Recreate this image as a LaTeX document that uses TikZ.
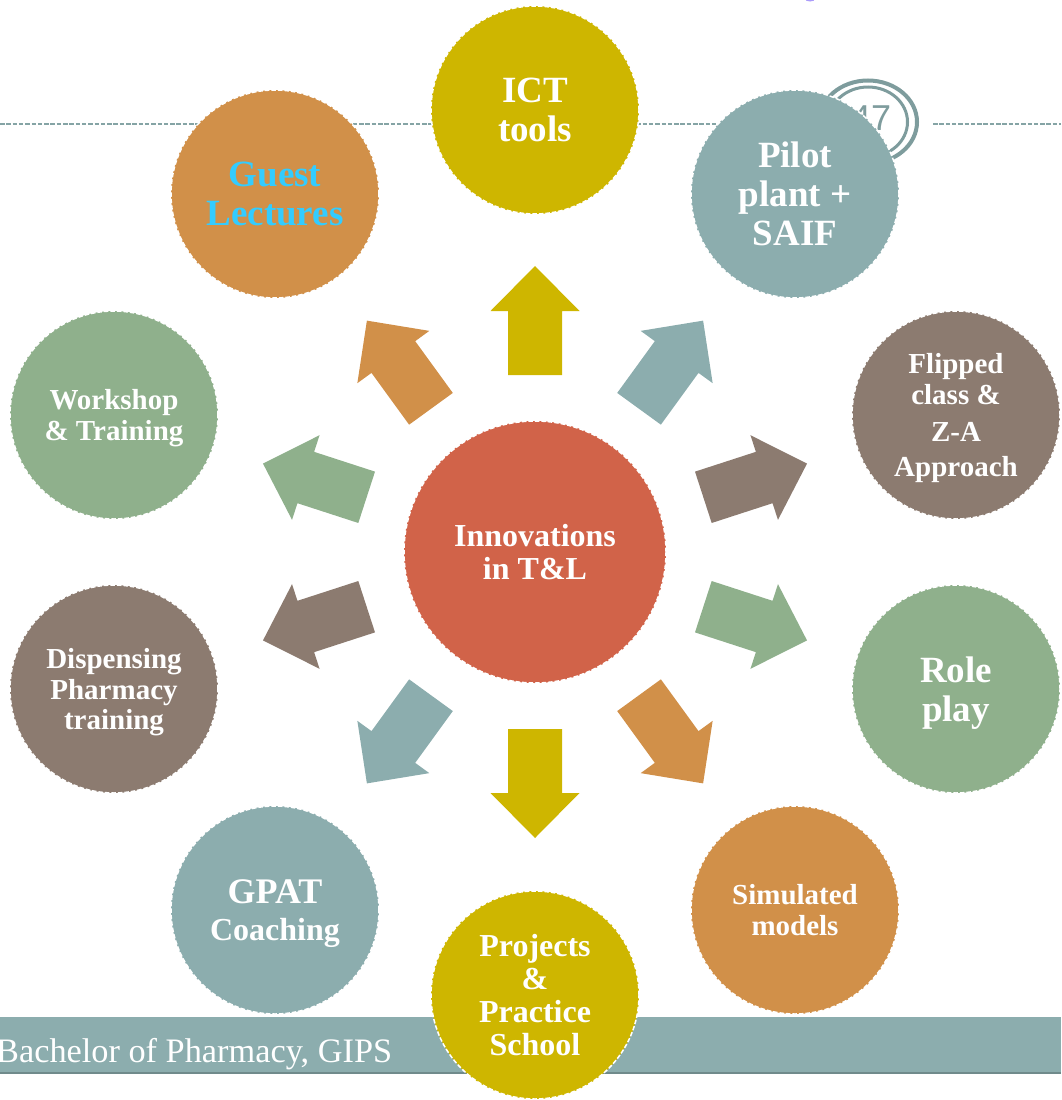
\documentclass[tikz,border=0pt]{standalone}
\usepackage{fontspec}
\setmainfont{Liberation Serif}
\newfontfamily\badgefont{Liberation Sans}
\definecolor{gold}{HTML}{CEB600}
\definecolor{teal}{HTML}{8CADAE}
\definecolor{umber}{HTML}{8C7B70}
\definecolor{sage}{HTML}{8FB08C}
\definecolor{amber}{HTML}{D19049}
\definecolor{brick}{HTML}{D16349}
\definecolor{skyblue}{HTML}{33CCFF}
\tikzset{
  x=1pt,y=-1pt,
  disc/.style={circle,minimum size=208pt,inner sep=0pt,draw=white,line width=1.5pt,
    dash pattern=on 4.5pt off 2pt,align=center,text=white},
  hubdisc/.style={disc,minimum size=262pt},
  fxl/.style={font=\fontsize{37}{39}\selectfont\bfseries},
  flg/.style={font=\fontsize{32}{33}\selectfont\bfseries},
  fsm/.style={font=\fontsize{29}{30.5}\selectfont\bfseries},
  rule/.style={draw=teal!95!black,line width=2pt,dash pattern=on 4.5pt off 1.8pt},
  ring/.style={draw=teal!90!black},
}
\begin{document}
\begin{tikzpicture}
\useasboundingbox (0,0) rectangle (1061,1100);
\clip (0,0) rectangle (1061,1100);
\fill[color={rgb,255:red,170;green,155;blue,250}] (810,-1) ellipse [x radius=5pt,y radius=2.5pt];
% header rule and page badge
\draw[rule] (0,124) -- (830,124);
\draw[rule] (933,124) -- (1061,124);
\draw[ring,line width=4pt] (868,122) ellipse [x radius=49pt,y radius=41.5pt];
\draw[ring,line width=3pt] (868,122) ellipse [x radius=39.5pt,y radius=35pt];
\node[text=teal!90!black,font=\badgefont\fontsize{36}{36}\selectfont,inner sep=0pt] (pageno) at (871,118) {47};
% footer bar
\fill[teal] (0,1017) rectangle (1061,1072);
\fill[teal!80!black] (0,1072) rectangle (1061,1074);
\node[anchor=base west,text=white,font=\fontsize{34.3}{34.3}\selectfont,inner sep=0pt] (footer) at (-4,1062) {Bachelor of Pharmacy, GIPS};
% arrows
\coordinate (hubc) at (535,552);
\foreach \ang/\col in {0/gold,-36/teal,-72/umber,-108/sage,-144/amber,-180/gold,-216/teal,-252/umber,-288/sage,-324/amber}{
  \fill[\col,rotate around={\ang:(hubc)}]
    (535,266) -- (579.5,311) -- (562,311) -- (562,375) -- (508,375) -- (508,311) -- (490.5,311) -- cycle;
}
% discs
\node[hubdisc,fill=brick,flg] (hub) at (535,552) {Innovations\\in T\&L};
\node[disc,fill=gold,fxl] (ict) at (535,110) {ICT\\tools};
\node[disc,fill=teal,fxl] (pilot) at (795,194) {Pilot\\plant +\\SAIF};
\node[disc,fill=umber,fsm] (flip) at (956,415) {Flipped\\class \&\\[7pt]Z-A\\[4pt]\smash{Approach}};
\node[disc,fill=sage,fxl] (role) at (956,689) {Role\\\smash{play}};
\node[disc,fill=amber,fsm] (sim) at (795,910) {Simulated\\models};
\node[disc,fill=gold,flg] (proj) at (535,995) {Projects\\\&\\Practice\\School};
\node[disc,fill=teal,font=\fontsize{36}{37}\selectfont\bfseries] (gpat) at (275,910) {GPAT\\\smash{\fontsize{32}{33}\selectfont Coaching}};
\node[disc,fill=umber,fsm] (disp) at (114,689) {Dispensing\\Pharmacy\\\smash{training}};
\node[disc,fill=sage,fsm] (work) at (114,415) {Workshop\\\smash{\& Training}};
\node[disc,fill=amber,fxl,text=skyblue] (guest) at (275,194) {Guest\\Lectures};
\end{tikzpicture}
\end{document}
